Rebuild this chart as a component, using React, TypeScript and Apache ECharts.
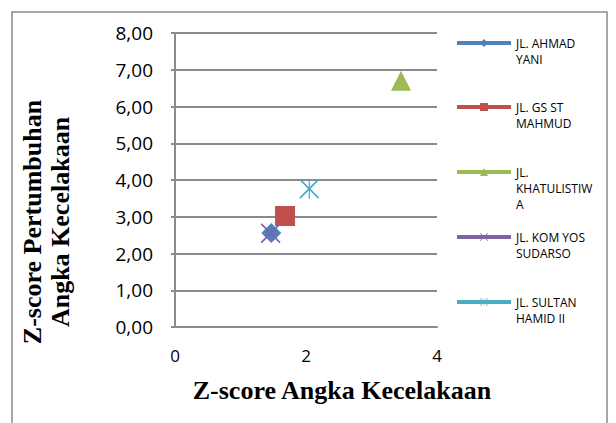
import React, { useEffect, useRef } from "react";
import * as echarts from "echarts";

// Road segments and their z-scores
const roadNames = [
  "JL. AHMAD YANI",
  "JL. GS ST MAHMUD",
  "JL. KHATULISTIWA",
  "JL. KOM YOS SUDARSO",
  "JL. SULTAN HAMID II",
];
const legendLines = [
  ["JL. AHMAD", "YANI"],
  ["JL. GS ST", "MAHMUD"],
  ["JL.", "KHATULISTIW", "A"],
  ["JL. KOM YOS", "SUDARSO"],
  ["JL. SULTAN", "HAMID II"],
];
const zAccidentRate = [1.47, 1.68, 3.45, 1.46, 2.05];
const zAccidentGrowth = [2.56, 3.02, 6.7, 2.55, 3.76];
const roadColors = ["#4F81BD", "#C0504D", "#9BBB59", "#8064A2", "#4BACC6"];

const xTitle = "Z-score Angka Kecelakaan";
const yTitle = "Z-score Pertumbuhan\nAngka Kecelakaan";

const crossPath =
  "path://M0,1.2 L1.2,0 L20,18.8 L18.8,20 Z M18.8,0 L20,1.2 L1.2,20 L0,18.8 Z";
const starPath =
  "path://M0,1.2 L1.2,0 L20,18.8 L18.8,20 Z M18.8,0 L20,1.2 L1.2,20 L0,18.8 Z M9.4,0 L10.6,0 L10.6,20 L9.4,20 Z";
const roadSymbols = ["diamond", "rect", "triangle", crossPath, starPath];

// vertical centre of each legend entry's first line
const legendCenters = [43, 107, 172, 237, 302];
const LEGEND_LINE_H = 16;

export default function App() {
  const ref = useRef<HTMLDivElement>(null);

  useEffect(() => {
    document.body.style.margin = "0";
    if (!ref.current) return;
    const chart = echarts.init(ref.current, undefined, { renderer: "svg" });

    const series = roadNames.map((name, i) => ({
      name,
      type: "line",
      data: [[zAccidentRate[i], zAccidentGrowth[i]]],
      symbol: roadSymbols[i],
      symbolSize: 20,
      itemStyle: { color: roadColors[i], borderWidth: 0 },
      lineStyle: { color: roadColors[i], width: 4 },
      z: 3 + i,
    }));

    const legends = roadNames.map((name, i) => {
      const n = legendLines[i].length;
      // pad with leading blank lines so the icon sits on the first line
      const text = "\n".repeat(n - 1) + legendLines[i].join("\n");
      const total = 2 * n - 1;
      return {
        data: [name],
        orient: "vertical",
        left: 455,
        top: legendCenters[i] - (total * LEGEND_LINE_H) / 2,
        padding: 0,
        itemWidth: 54,
        itemHeight: 10,
        selectedMode: false,
        lineStyle: { width: 4 },
        formatter: () => text,
        textStyle: {
          fontFamily: "Open Sans",
          fontSize: 12,
          lineHeight: LEGEND_LINE_H,
          color: "#000",
        },
      };
    });

    chart.setOption({
      animation: false,
      backgroundColor: "#fff",
      grid: { left: 175, right: 179, top: 33, bottom: 96 },
      xAxis: {
        type: "value",
        min: 0,
        max: 4,
        interval: 2,
        splitLine: { show: false },
        axisLine: { show: true, lineStyle: { color: "#8a8a8a", width: 2 } },
        axisTick: { show: false },
        axisLabel: {
          margin: 20,
          fontFamily: "Open Sans",
          fontSize: 17,
          color: "#000",
        },
      },
      yAxis: {
        type: "value",
        min: 0,
        max: 8,
        interval: 1,
        splitLine: { show: true, lineStyle: { color: "#8a8a8a", width: 2 } },
        axisLine: { show: true, lineStyle: { color: "#8a8a8a", width: 2 } },
        axisTick: { show: true, length: 4, lineStyle: { color: "#8a8a8a", width: 2 } },
        axisLabel: {
          margin: 22,
          fontFamily: "Open Sans",
          fontSize: 19,
          color: "#000",
          formatter: (v: number) => v.toFixed(2).replace(".", ","),
        },
      },
      legend: legends,
      series,
      graphic: [
        {
          type: "rect",
          silent: true,
          shape: { x: 12, y: 12, width: 595, height: 430 },
          style: { fill: "none", stroke: "#8a8a8a", lineWidth: 1.5 },
          z: -1,
        },
        {
          type: "text",
          x: 46,
          y: 222,
          rotation: Math.PI / 2,
          style: {
            text: yTitle,
            font: "bold 26px 'Liberation Serif'",
            lineHeight: 28,
            align: "center",
            verticalAlign: "middle",
            fill: "#000",
          },
        },
        {
          type: "text",
          x: 342,
          y: 390,
          style: {
            text: xTitle,
            font: "bold 26px 'Liberation Serif'",
            align: "center",
            verticalAlign: "middle",
            fill: "#000",
          },
        },
      ],
    });

    return () => chart.dispose();
  }, []);

  return <div ref={ref} style={{ width: 616, height: 423 }} />;
}
